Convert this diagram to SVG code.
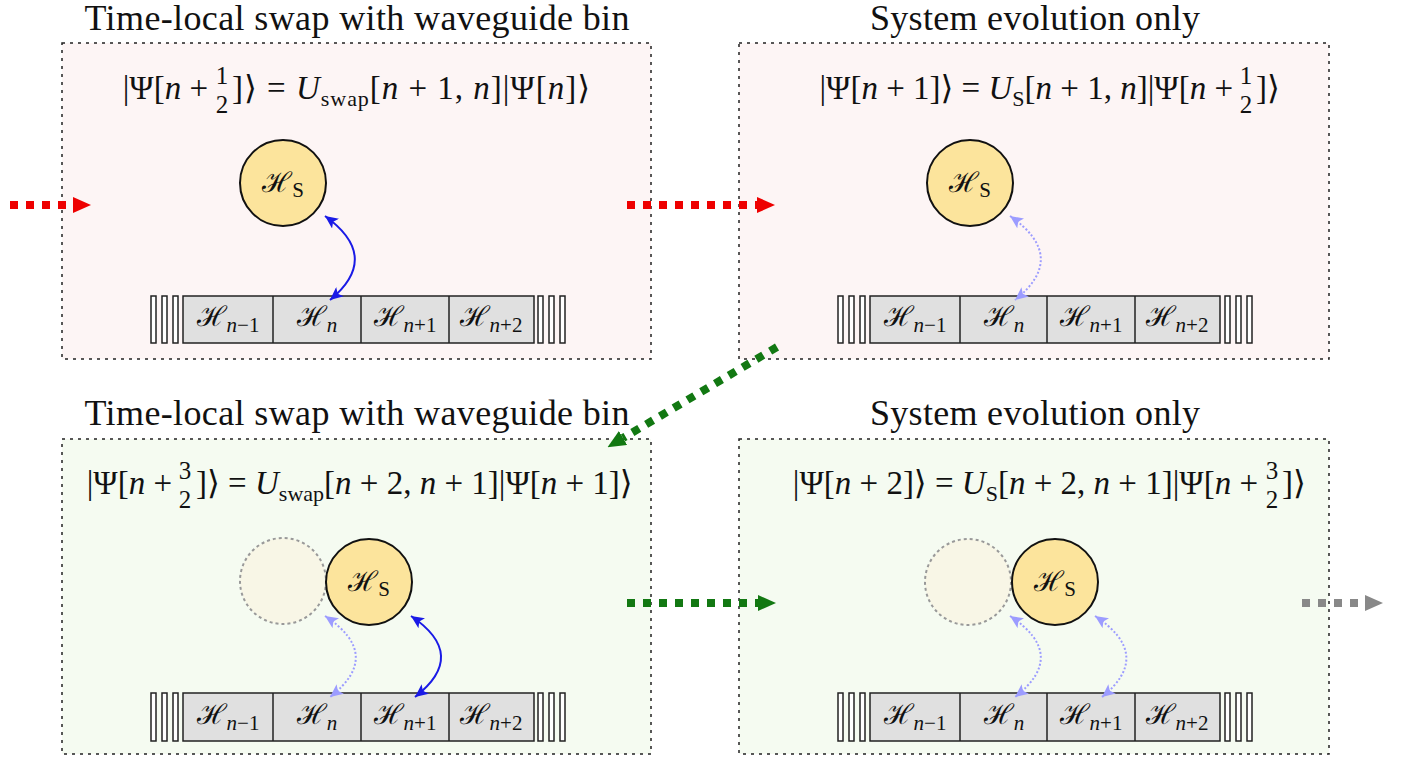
<svg xmlns="http://www.w3.org/2000/svg" width="1405" height="760" viewBox="0 0 1405 760">
<style>
text{font-family:'Liberation Serif','DejaVu Serif',serif;fill:#111}
.title{font-size:36px;text-anchor:middle}
.eq{font-size:33px}
.it{font-style:italic}
.es{font-size:22px}
.sub{font-size:21px}
.frac{font-size:25px;text-anchor:middle}
.cell{font-size:28px;text-anchor:middle}
.pt{fill:#fdf5f5;stroke:#222;stroke-width:1.5;stroke-dasharray:3 5}
.pb{fill:#f5fbf1;stroke:#222;stroke-width:1.5;stroke-dasharray:3 5}
.sys{fill:#fce49c;stroke:#111;stroke-width:2}
.ghost{fill:#f8f6e6;stroke:#999;stroke-width:2;stroke-dasharray:3 3}
.strip{fill:#e0e0e0;stroke:#222;stroke-width:1.5}
.bar{fill:#fff;stroke:#222;stroke-width:1.5}
.dv{stroke:#222;stroke-width:1.5}
.big{fill:none;stroke-width:8;stroke-dasharray:8 8}
.swap{fill:none;stroke:#1a1ae6;stroke-width:2;marker-start:url(#hb);marker-end:url(#hb)}
.weak{fill:none;stroke:#9c9cff;stroke-width:2;stroke-dasharray:2 2;marker-start:url(#hl);marker-end:url(#hl)}
</style>
<defs>
<marker id="tr" markerUnits="userSpaceOnUse" markerWidth="18" markerHeight="16" refX="0" refY="8" orient="auto"><path d="M0,0 L18,8 L0,16 z" fill="#ee0000"/></marker>
<marker id="tg" markerUnits="userSpaceOnUse" markerWidth="18" markerHeight="16" refX="0" refY="8" orient="auto"><path d="M0,0 L18,8 L0,16 z" fill="#127812"/></marker>
<marker id="tgr" markerUnits="userSpaceOnUse" markerWidth="18" markerHeight="16" refX="0" refY="8" orient="auto"><path d="M0,0 L18,8 L0,16 z" fill="#888"/></marker>
<marker id="hb" markerUnits="userSpaceOnUse" markerWidth="14" markerHeight="12" refX="13" refY="6" orient="auto-start-reverse"><path d="M0,0 L13,6 L0,12 L3,6 z" fill="#1a1ae6"/></marker>
<marker id="hl" markerUnits="userSpaceOnUse" markerWidth="14" markerHeight="12" refX="13" refY="6" orient="auto-start-reverse"><path d="M0,0 L13,6 L0,12 L3,6 z" fill="#9c9cff"/></marker>
</defs>
<rect width="1405" height="760" fill="#fff"/>

<g id="panel-tl">
<text class="title" x="357" y="30" textLength="545" lengthAdjust="spacing">Time-local swap with waveguide bin</text>
<rect class="pt" x="62" y="43" width="589" height="316"/>
<text class="eq" x="208" y="99" text-anchor="end">|Ψ[<tspan class="it">n</tspan> +</text>
<text class="frac" x="222" y="84">1</text><text class="frac" x="222" y="113">2</text>
<text class="eq" x="232" y="99" textLength="358" lengthAdjust="spacing">]⟩ = <tspan class="it">U</tspan><tspan class="es" dy="7">swap</tspan><tspan dy="-7">[</tspan><tspan class="it">n</tspan> + 1, <tspan class="it">n</tspan>]|Ψ[<tspan class="it">n</tspan>]⟩</text>
</g>

<g id="panel-tr">
<text class="title" x="1035" y="30" textLength="330" lengthAdjust="spacing">System evolution only</text>
<rect class="pt" x="739" y="43" width="590" height="316"/>
<text class="eq" x="1233" y="99" text-anchor="end">|Ψ[<tspan class="it">n</tspan> + 1]⟩ = <tspan class="it">U</tspan><tspan class="es" dy="7">S</tspan><tspan dy="-7">[</tspan><tspan class="it">n</tspan> + 1, <tspan class="it">n</tspan>]|Ψ[<tspan class="it">n</tspan> +</text>
<text class="frac" x="1246" y="84">1</text><text class="frac" x="1246" y="113">2</text>
<text class="eq" x="1256" y="99">]⟩</text>
</g>

<g id="panel-bl">
<text class="title" x="357" y="425" textLength="545" lengthAdjust="spacing">Time-local swap with waveguide bin</text>
<rect class="pb" x="62" y="439" width="589" height="315"/>
<text class="eq" x="172" y="494" text-anchor="end">|Ψ[<tspan class="it">n</tspan> +</text>
<text class="frac" x="185" y="479">3</text><text class="frac" x="185" y="508">2</text>
<text class="eq" x="196" y="494">]⟩ = <tspan class="it">U</tspan><tspan class="es" dy="7">swap</tspan><tspan dy="-7">[</tspan><tspan class="it">n</tspan> + 2, <tspan class="it">n</tspan> + 1]|Ψ[<tspan class="it">n</tspan> + 1]⟩</text>
</g>

<g id="panel-br">
<text class="title" x="1035" y="425" textLength="330" lengthAdjust="spacing">System evolution only</text>
<rect class="pb" x="739" y="439" width="590" height="315"/>
<text class="eq" x="1258" y="494" text-anchor="end">|Ψ[<tspan class="it">n</tspan> + 2]⟩ = <tspan class="it">U</tspan><tspan class="es" dy="7">S</tspan><tspan dy="-7">[</tspan><tspan class="it">n</tspan> + 2, <tspan class="it">n</tspan> + 1]|Ψ[<tspan class="it">n</tspan> +</text>
<text class="frac" x="1272" y="479">3</text><text class="frac" x="1272" y="508">2</text>
<text class="eq" x="1282" y="494">]⟩</text>
</g>

<g id="system-tl"><circle class="sys" cx="283" cy="183" r="43"/><text class="cell" x="283" y="192">ℋ<tspan class="sub" dy="5">S</tspan></text></g>
<g id="system-tr"><circle class="sys" cx="970" cy="183" r="43"/><text class="cell" x="970" y="192">ℋ<tspan class="sub" dy="5">S</tspan></text></g>
<g id="system-bl-ghost"><circle class="ghost" cx="283" cy="581" r="43"/></g>
<g id="system-bl"><circle class="sys" cx="369" cy="582" r="43"/><text class="cell" x="369" y="591">ℋ<tspan class="sub" dy="5">S</tspan></text></g>
<g id="system-br-ghost"><circle class="ghost" cx="968" cy="582" r="43"/></g>
<g id="system-br"><circle class="sys" cx="1055" cy="582" r="43"/><text class="cell" x="1055" y="591">ℋ<tspan class="sub" dy="5">S</tspan></text></g>

<g id="waveguide-tl">
<rect class="bar" x="151" y="296" width="5" height="47"/><rect class="bar" x="162" y="296" width="5" height="47"/><rect class="bar" x="173" y="296" width="5" height="47"/>
<rect class="strip" x="183" y="296" width="351" height="47"/>
<line class="dv" x1="273" y1="296" x2="273" y2="343"/><line class="dv" x1="361" y1="296" x2="361" y2="343"/><line class="dv" x1="449" y1="296" x2="449" y2="343"/>
<rect class="bar" x="538" y="296" width="5" height="47"/><rect class="bar" x="549" y="296" width="5" height="47"/><rect class="bar" x="560" y="296" width="5" height="47"/>
<text class="cell" x="228" y="326">ℋ<tspan class="sub it" dy="6">n</tspan><tspan class="sub">−1</tspan></text>
<text class="cell" x="317" y="326">ℋ<tspan class="sub it" dy="6">n</tspan></text>
<text class="cell" x="405" y="326">ℋ<tspan class="sub it" dy="6">n</tspan><tspan class="sub">+1</tspan></text>
<text class="cell" x="491" y="326">ℋ<tspan class="sub it" dy="6">n</tspan><tspan class="sub">+2</tspan></text>
</g>
<g id="waveguide-tr">
<rect class="bar" x="838" y="296" width="5" height="47"/><rect class="bar" x="849" y="296" width="5" height="47"/><rect class="bar" x="860" y="296" width="5" height="47"/>
<rect class="strip" x="870" y="296" width="350" height="47"/>
<line class="dv" x1="960" y1="296" x2="960" y2="343"/><line class="dv" x1="1047" y1="296" x2="1047" y2="343"/><line class="dv" x1="1135" y1="296" x2="1135" y2="343"/>
<rect class="bar" x="1225" y="296" width="5" height="47"/><rect class="bar" x="1236" y="296" width="5" height="47"/><rect class="bar" x="1247" y="296" width="5" height="47"/>
<text class="cell" x="915" y="326">ℋ<tspan class="sub it" dy="6">n</tspan><tspan class="sub">−1</tspan></text>
<text class="cell" x="1004" y="326">ℋ<tspan class="sub it" dy="6">n</tspan></text>
<text class="cell" x="1091" y="326">ℋ<tspan class="sub it" dy="6">n</tspan><tspan class="sub">+1</tspan></text>
<text class="cell" x="1177" y="326">ℋ<tspan class="sub it" dy="6">n</tspan><tspan class="sub">+2</tspan></text>
</g>
<g id="waveguide-bl">
<rect class="bar" x="151" y="693" width="5" height="48"/><rect class="bar" x="162" y="693" width="5" height="48"/><rect class="bar" x="173" y="693" width="5" height="48"/>
<rect class="strip" x="183" y="693" width="351" height="48"/>
<line class="dv" x1="273" y1="693" x2="273" y2="741"/><line class="dv" x1="361" y1="693" x2="361" y2="741"/><line class="dv" x1="449" y1="693" x2="449" y2="741"/>
<rect class="bar" x="538" y="693" width="5" height="48"/><rect class="bar" x="549" y="693" width="5" height="48"/><rect class="bar" x="560" y="693" width="5" height="48"/>
<text class="cell" x="228" y="724">ℋ<tspan class="sub it" dy="6">n</tspan><tspan class="sub">−1</tspan></text>
<text class="cell" x="317" y="724">ℋ<tspan class="sub it" dy="6">n</tspan></text>
<text class="cell" x="405" y="724">ℋ<tspan class="sub it" dy="6">n</tspan><tspan class="sub">+1</tspan></text>
<text class="cell" x="491" y="724">ℋ<tspan class="sub it" dy="6">n</tspan><tspan class="sub">+2</tspan></text>
</g>
<g id="waveguide-br">
<rect class="bar" x="838" y="693" width="5" height="48"/><rect class="bar" x="849" y="693" width="5" height="48"/><rect class="bar" x="860" y="693" width="5" height="48"/>
<rect class="strip" x="870" y="693" width="350" height="48"/>
<line class="dv" x1="960" y1="693" x2="960" y2="741"/><line class="dv" x1="1047" y1="693" x2="1047" y2="741"/><line class="dv" x1="1135" y1="693" x2="1135" y2="741"/>
<rect class="bar" x="1225" y="693" width="5" height="48"/><rect class="bar" x="1236" y="693" width="5" height="48"/><rect class="bar" x="1247" y="693" width="5" height="48"/>
<text class="cell" x="915" y="724">ℋ<tspan class="sub it" dy="6">n</tspan><tspan class="sub">−1</tspan></text>
<text class="cell" x="1004" y="724">ℋ<tspan class="sub it" dy="6">n</tspan></text>
<text class="cell" x="1091" y="724">ℋ<tspan class="sub it" dy="6">n</tspan><tspan class="sub">+1</tspan></text>
<text class="cell" x="1177" y="724">ℋ<tspan class="sub it" dy="6">n</tspan><tspan class="sub">+2</tspan></text>
</g>

<g id="connectors">
<line class="big" x1="10" y1="205" x2="73" y2="205" stroke="#ee0000" marker-end="url(#tr)"/>
<line class="big" x1="627" y1="205" x2="757" y2="205" stroke="#ee0000" marker-end="url(#tr)"/>
<line class="big" x1="777" y1="347" x2="623" y2="438" stroke="#127812" marker-end="url(#tg)"/>
<line class="big" x1="627" y1="603" x2="758" y2="603" stroke="#127812" marker-end="url(#tg)"/>
<line class="big" x1="1302" y1="603" x2="1365" y2="603" stroke="#888" marker-end="url(#tgr)"/>
<path class="swap" d="M325,216 Q382,257 330,300"/>
<path class="weak" d="M1010,216 Q1069,257 1015,300"/>
<path class="weak" d="M325,616 Q384,655 330,697"/>
<path class="swap" d="M411,616 Q469,655 415,697"/>
<path class="weak" d="M1010,616 Q1069,655 1015,697"/>
<path class="weak" d="M1095,616 Q1154,655 1102,697"/>
</g>
</svg>
